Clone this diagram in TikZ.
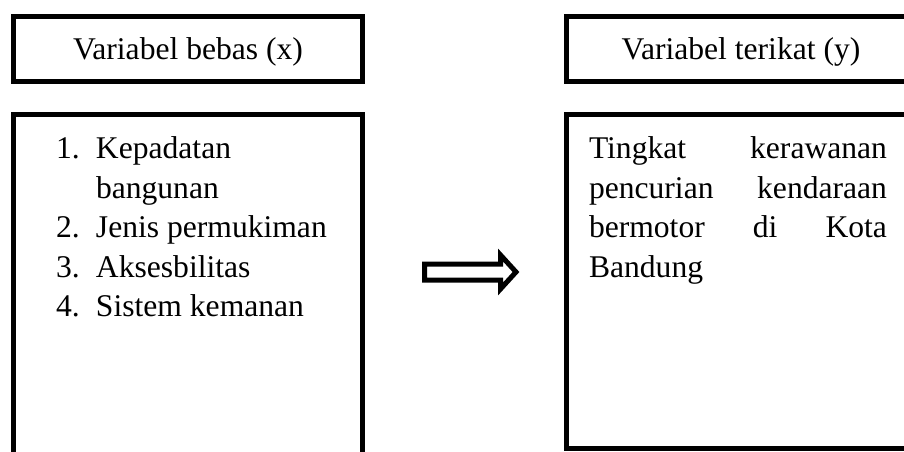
\documentclass[tikz,border=0pt]{standalone}
\usepackage{fontspec}
\setmainfont{Liberation Serif}
\begin{document}
\begin{tikzpicture}[x=1pt,y=-1pt,
  frame/.style={draw, line width=5pt, inner sep=0pt, outer sep=0pt,
    minimum width=349pt},
  bodyfont/.style={font=\fontsize{31.6}{39.5}\selectfont},
  headbox/.style={frame, bodyfont, minimum height=64.5pt,
    text height=21pt, text depth=0pt},
  txt/.style={bodyfont, inner sep=0pt, outer sep=0pt, anchor=base west},
  blockarrow/.style={draw, line width=5pt, line join=miter},
]
\useasboundingbox (0,0) rectangle (904,452);
\begin{scope}
  \clip (0,0) rectangle (904,452);

  % headings
  \node[headbox] (headX) at (188,48.75) {Variabel bebas (x)};
  \node[headbox] (headY) at (741,48.75) {Variabel terikat (y)};

  % content frames
  \node[frame, minimum height=365.5pt] (bodyX) at (188,297.25) {};
  \node[frame, minimum height=334pt] (bodyY) at (741,281.5) {};

  % independent variables
  \node[txt] (listX) at (56,158.5) {\parbox[t]{300pt}{%
    \makebox[40pt][l]{1.}Kepadatan\\
    \hspace*{40pt}bangunan\\
    \makebox[40pt][l]{2.}Jenis permukiman\\
    \makebox[40pt][l]{3.}Aksesbilitas\\
    \makebox[40pt][l]{4.}Sistem kemanan}};

  % dependent variable, justified line by line
  \node[txt] (textY) at (589,158.5) {\parbox[t]{298pt}{\leavevmode
    \hbox to 298pt{Tingkat\hfill kerawanan}\\
    \hbox to 298pt{pencurian\hfill kendaraan}\\
    \hbox to 298pt{bermotor\hfill di\hfill Kota}\\
    Bandung}};

  % outlined block arrow between the frames
  \draw[blockarrow] (424.5,264) -- (500.5,264) -- (500.5,255) -- (516,272)
    -- (500.5,289) -- (500.5,280) -- (424.5,280) -- cycle;
\end{scope}
\end{tikzpicture}
\end{document}
